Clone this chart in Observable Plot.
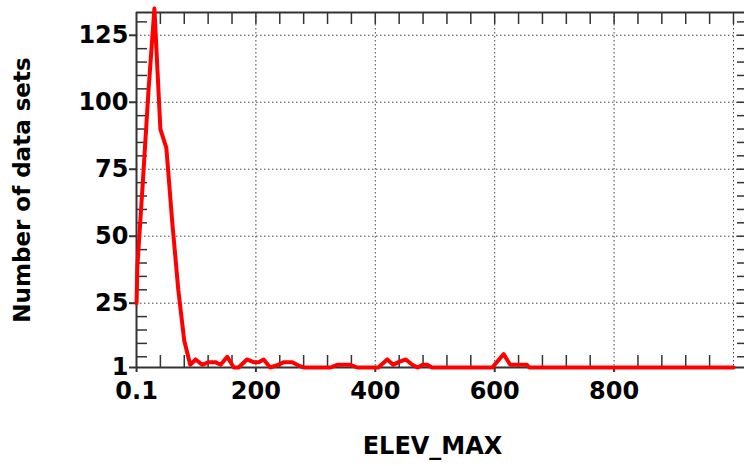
<!DOCTYPE html>
<html>
<head>
<meta charset="utf-8">
<script src="https://cdn.jsdelivr.net/npm/d3@7"></script>
<script src="https://cdn.jsdelivr.net/npm/@observablehq/plot@0.6"></script>
<style>
  html, body { margin: 0; padding: 0; background: white; }
  #chart { width: 744px; height: 466px; overflow: hidden; }
</style>
</head>
<body>
<div id="chart"></div>
<script>
// ELEV_MAX bin positions and number of data sets
const elevMax = [0.1, 1.5, 10, 20, 30, 40, 50, 60, 70, 80, 90, 99, 110, 121, 132, 141, 152, 163, 171, 185,
  196, 205, 213, 224, 237, 247, 261, 269, 280, 290, 325, 336, 358, 370, 405, 420, 430, 439, 451, 462,
  471, 479, 487, 495, 500, 596, 615, 626, 654, 658, 1000];
const dataSets = [25, 39, 68, 104, 135, 90, 83, 55, 30, 11, 2, 4, 2, 3, 3, 2, 5, 1, 1, 4,
  3, 3, 4, 1, 2, 3, 3, 2, 1, 1, 1, 2, 2, 1, 1, 4, 2, 3, 4, 2,
  1, 2, 2, 1, 1, 1, 6, 2, 2, 1, 1];

const xTickValues = [0.1, 200, 400, 600, 800];
const xTickLabels = ["0.1", "200", "400", "600", "800"];
const xGridValues = [200, 400, 600, 800, 1000];
const xMinorValues = d3.range(40, 1001, 40);
const yTickValues = [1, 25, 50, 75, 100, 125];
const yTickLabels = ["1", "25", "50", "75", "100", "125"];
const yGridValues = [25, 50, 75, 100, 125];
const yMinorValues = d3.range(5, 131, 5);
const xDomain = [0, 1028.5];
const yDomain = [1, 133.5];
const xTitle = "ELEV_MAX";
const yTitle = "Number of data sets";

const rows = elevMax.map((x, i) => ({x, y: dataSets[i]}));
const axisColor = "#333";
const gridStyle = {stroke: "#444", strokeOpacity: 1, strokeWidth: 1, strokeDasharray: "1.5,2.5"};

const chart = Plot.plot({
  width: 744,
  height: 466,
  marginLeft: 136,
  marginRight: 0,
  marginTop: 12,
  marginBottom: 99,
  style: {fontFamily: "'DejaVu Sans', Verdana, sans-serif", fontWeight: "bold", fontSize: "24px", color: "black", background: "white", overflow: "visible"},
  x: {domain: xDomain, range: [136, 750]},
  y: {domain: yDomain, range: [367, 12]},
  marks: [
    Plot.gridY(yGridValues, gridStyle),
    Plot.gridX(xGridValues, gridStyle),
    // bottom minor ticks (inward)
    Plot.ruleX(xMinorValues.filter(d => d % 200 !== 0), {x: d => d, insetTop: 343, stroke: axisColor, strokeWidth: 1.5}),
    // top ticks (inward)
    Plot.ruleX(xMinorValues, {x: d => d, insetBottom: 343, stroke: axisColor, strokeWidth: 1.5}),
    // left minor ticks (inward)
    Plot.ruleY(yMinorValues.filter(d => d % 25 !== 0), {y: d => d, insetRight: 597, stroke: axisColor, strokeWidth: 1.5}),
    // right ticks
    Plot.ruleY(yMinorValues, {y: d => d, insetLeft: 601, stroke: axisColor, strokeWidth: 1.5}),
    // frame lines
    Plot.ruleY([yDomain[0]], {stroke: axisColor, strokeWidth: 2}),
    Plot.ruleY([yDomain[1]], {stroke: axisColor, strokeWidth: 2}),
    Plot.ruleX([xDomain[0]], {stroke: axisColor, strokeWidth: 2}),
    Plot.axisX({ticks: xTickValues, tickFormat: (d) => xTickLabels[xTickValues.indexOf(d)], tickSize: 5, tickPadding: 9, label: null, stroke: axisColor, strokeWidth: 2, fill: "black"}),
    Plot.axisY({ticks: yTickValues, tickFormat: (d) => yTickLabels[yTickValues.indexOf(d)], tickSize: 7, tickPadding: 1, label: null, stroke: axisColor, strokeWidth: 2, fill: "black"}),
    Plot.line(rows, {x: "x", y: "y", stroke: "#ff0000", strokeWidth: 4}),
    Plot.text([xTitle], {frameAnchor: "bottom", dy: 86, dx: -8, fontSize: 24, fontWeight: "bold", fill: "black"}),
    Plot.text([yTitle], {frameAnchor: "left", textAnchor: "middle", rotate: -90, dx: -114, fontSize: 23, fontWeight: "bold", fill: "black"})
  ]
});
document.getElementById("chart").appendChild(chart);
</script>
</body>
</html>
